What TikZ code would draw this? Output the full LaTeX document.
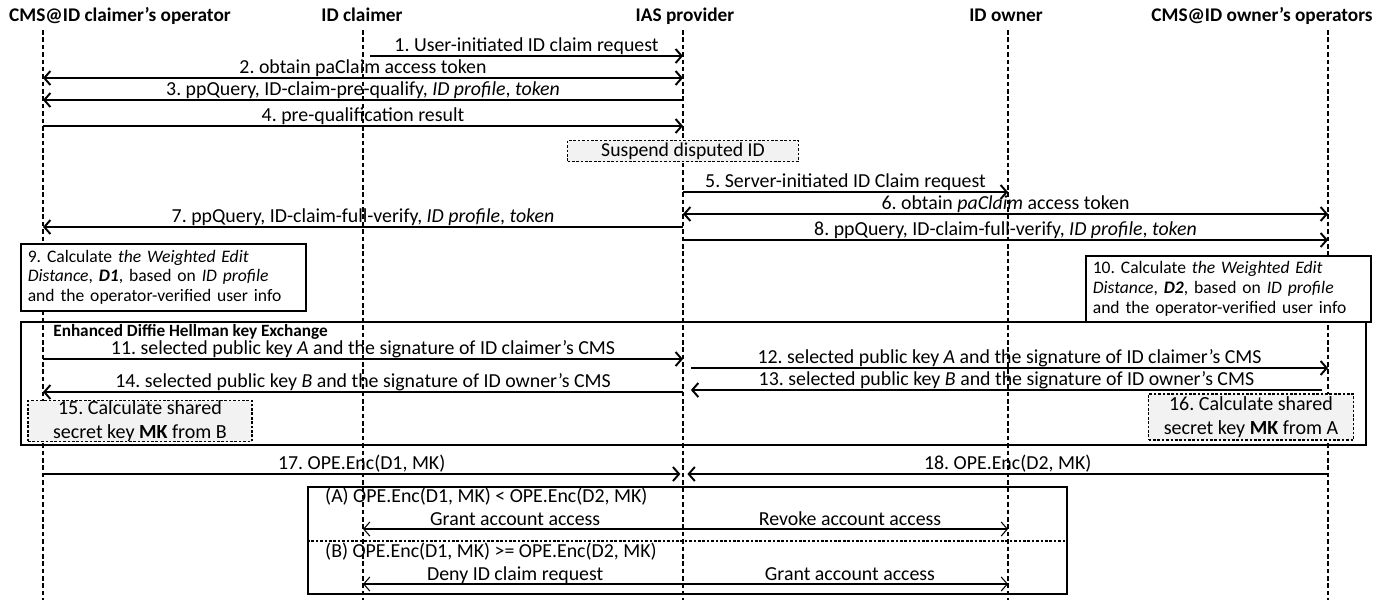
\documentclass[tikz,border=0pt]{standalone}
\usepackage{fontspec}
\setmainfont{Carlito}
\usetikzlibrary{arrows.meta}
\definecolor{noteGray}{HTML}{F2F2F2}
\frenchspacing

\begin{document}
\begin{tikzpicture}[x=0.02cm, y=-0.02cm,
    >={Straight Barb[length=3.5pt,width=8pt]},
    lifeline/.style={line width=1.2pt, dash pattern=on 2.6pt off 1.6pt},
    msg/.style={line width=1.1pt},
    lbl/.style={font=\fontsize{11.3}{13}\selectfont, inner sep=0.5pt},
    above line/.style={anchor=base, yshift=2.6pt},
    actor/.style={font=\fontsize{11}{13}\selectfont\bfseries, anchor=base},
    calcbox/.style={draw, line width=0.9pt, fill=white, align=left,
        font=\fontsize{10}{11.2}\selectfont, inner xsep=4pt, anchor=north west},
    notebox/.style={draw, fill=noteGray, line width=0.8pt,
        dash pattern=on 1.5pt off 1pt, align=center, inner sep=0pt},
    frame/.style={draw, line width=1.1pt, anchor=north west}]

    \useasboundingbox (0,0) rectangle (1391,600);

    \node[actor] (hOp1) at (120,21) {CMS@ID claimer’s operator};
    \node[actor] (hCl)  at (362,21) {ID claimer};
    \node[actor] (hIas) at (685,21) {IAS provider};
    \node[actor] (hOwn) at (1006,21) {ID owner};
    \node[actor] (hOp2) at (1262,21) {CMS@ID owner’s operators};

    \coordinate (op1) at (43,30);
    \coordinate (cl)  at (363,30);
    \coordinate (ias) at (683,30);
    \coordinate (own) at (1008,30);
    \coordinate (op2) at (1328,30);
    \foreach \c in {op1,cl,ias,own,op2}
        \draw[lifeline] (\c) -- (\c |- 0,600);

    \draw[msg,->] (cl |- 0,56) ++(7,0) -- (ias |- 0,56)
        node[lbl, midway, above line] {1. User-initiated ID claim request};
    \draw[msg,<->] (op1 |- 0,78) -- (ias |- 0,78)
        node[lbl, midway, above line] {2. obtain paClaim access token};
    \draw[msg,->] (ias |- 0,100) -- (op1 |- 0,100)
        node[lbl, midway, above line] {3. ppQuery, ID-claim-pre-qualify, \textit{ID profile}, \textit{token}};
    \draw[msg,->] (op1 |- 0,126) -- (ias |- 0,126)
        node[lbl, midway, above line] {4. pre-qualification result};

    \node[notebox, font=\fontsize{11.2}{13}\selectfont, minimum width=4.62cm,
        minimum height=0.42cm] (suspend) at (683,151) {Suspend disputed ID};

    \draw[msg,->] (ias |- 0,192) -- (own |- 0,192)
        node[lbl, midway, above line] {5. Server-initiated ID Claim request};
    \draw[msg,<->] (ias |- 0,214) -- (op2 |- 0,214)
        node[lbl, midway, above line] {6. obtain \textit{paClaim} access token};
    \draw[msg,->] (ias |- 0,227) -- (op1 |- 0,227)
        node[lbl, midway, above line] {7. ppQuery, ID-claim-full-verify, \textit{ID profile}, \textit{token}};
    \draw[msg,->] (ias |- 0,240) -- (op2 |- 0,240)
        node[lbl, midway, above line] {8. ppQuery, ID-claim-full-verify, \textit{ID profile}, \textit{token}};

    \node[calcbox, text width=5.7cm-8pt, minimum height=1.34cm] (calc1) at (20,243)
        {9. Calculate \textit{the Weighted Edit}\\
         \textit{Distance}, \textbf{\textit{D1}}, based on \textit{ID profile}\\
         and the operator-verified user info};
    \node[calcbox, text width=5.7cm-8pt, minimum height=1.16cm] (calc2) at (1085,255)
        {10. Calculate \textit{the Weighted Edit}\\
         \textit{Distance}, \textbf{\textit{D2}}, based on \textit{ID profile}\\
         and the operator-verified user info};

    \node[frame, minimum width=26.9cm, minimum height=2.46cm] (dh) at (20,321) {};
    \node[anchor=west, font=\fontsize{9.8}{11}\selectfont\bfseries, inner sep=0pt]
        (dhTitle) at (53,332) {Enhanced Diffie Hellman key Exchange};

    \draw[msg,->] (op1 |- 0,359) -- (ias |- 0,359)
        node[lbl, midway, above line] {11. selected public key \textit{A} and the signature of ID claimer’s CMS};
    \draw[msg,->] (ias |- 0,368) ++(8,0) -- (op2 |- 0,368)
        node[lbl, midway, above line] {12. selected public key \textit{A} and the signature of ID claimer’s CMS};
    \draw[msg,->] (op2 |- 0,390) ++(-6,0) -- ([xshift=4.5pt]ias |- 0,390)
        node[lbl, midway, above line] {13. selected public key \textit{B} and the signature of ID owner’s CMS};
    \draw[msg,->] (ias |- 0,392) -- (op1 |- 0,392)
        node[lbl, midway, above line] {14. selected public key \textit{B} and the signature of ID owner’s CMS};

    \node[notebox, font=\fontsize{11.4}{13.6}\selectfont, minimum width=4.48cm,
        minimum height=0.82cm] (mk1) at (140,421)
        {15. Calculate shared\\secret key \textbf{MK} from B};
    \node[notebox, font=\fontsize{11.4}{13.6}\selectfont, minimum width=4.1cm,
        minimum height=0.92cm] (mk2) at (1251,417)
        {16. Calculate shared\\secret key \textbf{MK} from A};

    \draw[msg,->] (op1 |- 0,474) -- ([xshift=-1.5pt]ias |- 0,474)
        node[lbl, midway, above line] {17. OPE.Enc(D1, MK)};
    \draw[msg,->] (op2 |- 0,474) -- ([xshift=2.5pt]ias |- 0,474)
        node[lbl, midway, above line] {18. OPE.Enc(D2, MK)};

    \node[frame, minimum width=15.18cm, minimum height=2.14cm] (alt) at (307,486) {};
    \draw[line width=0.9pt, dash pattern=on 1.5pt off 1pt] (alt.west |- 0,541) -- (alt.east |- 0,541);
    \node[lbl, anchor=west] (caseA) at (324,497) {(A) OPE.Enc(D1, MK) < OPE.Enc(D2, MK)};
    \draw[msg,<->, line width=0.6pt] (cl |- 0,529) -- (own |- 0,529)
        node[lbl, pos=0.236, above line, yshift=-0.4pt] {Grant account access}
        node[lbl, pos=0.755, above line, yshift=-0.4pt] {Revoke account access};
    \node[lbl, anchor=west] (caseB) at (324,552) {(B) OPE.Enc(D1, MK) >= OPE.Enc(D2, MK)};
    \draw[msg,<->, line width=0.6pt] (cl |- 0,584) -- (own |- 0,584)
        node[lbl, pos=0.236, above line, yshift=-0.4pt] {Deny ID claim request}
        node[lbl, pos=0.755, above line, yshift=-0.4pt] {Grant account access};
\end{tikzpicture}
\end{document}
